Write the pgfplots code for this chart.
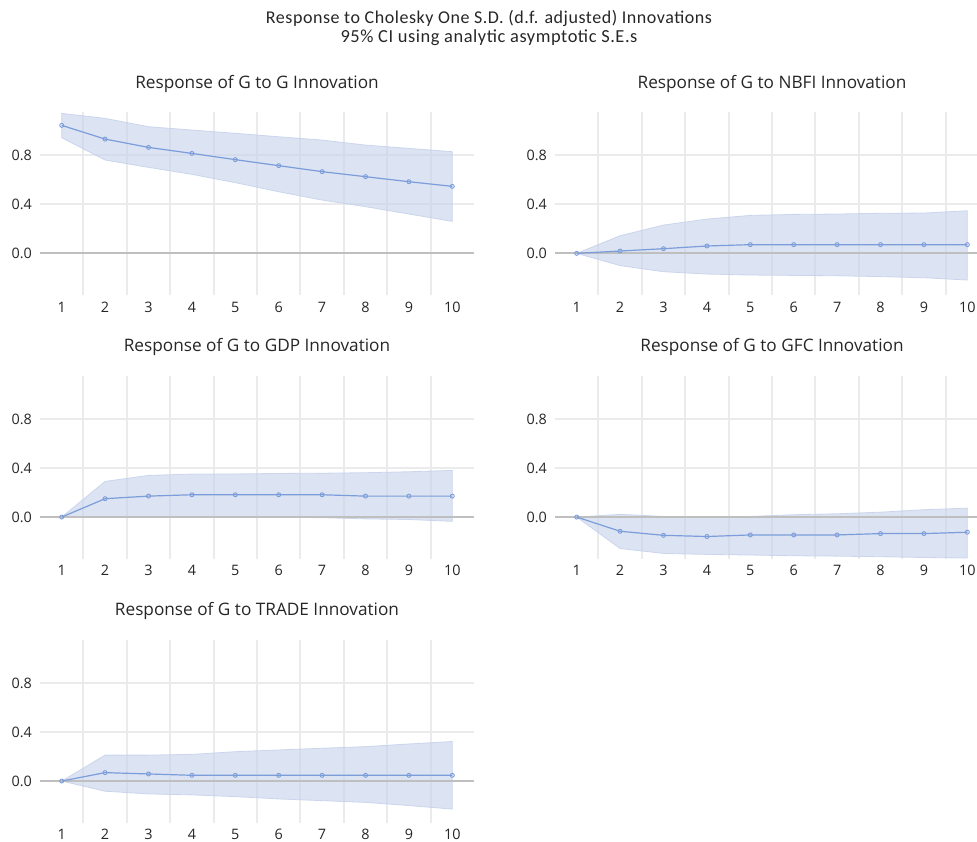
\documentclass[border=0pt]{standalone}
\usepackage{fontspec}
\setmainfont{Open Sans}
\newfontfamily\titlefont[LetterSpace=3]{Carlito}
\usepackage{pgfplots}
\pgfplotsset{compat=1.18}
\definecolor{lineblue}{HTML}{7B9DDA}
\definecolor{bandfill}{HTML}{C9D5EC}
\definecolor{banddraw}{HTML}{C3D0EA}
\definecolor{gridgray}{HTML}{EBEBED}
\definecolor{zerogray}{HTML}{BFBFBF}
\definecolor{txt}{HTML}{262626}
\pgfplotsset{
  irf/.style={
    scale only axis, width=217pt, height=91.25pt,
    xmin=0.5, xmax=10.5, ymin=-0.34, ymax=1.15,
    axis line style={draw=none},
    xtick={1,2,3,4,5,6,7,8,9,10}, ytick={0,0.4,0.8},
    xticklabels={1,2,3,4,5,6,7,8,9,10},
    yticklabels={0.0,0.4,0.8},
    minor xtick={1.5,2.5,3.5,4.5,5.5,6.5,7.5,8.5,9.5},
    minor x grid style={gridgray, line width=1pt},
    xminorgrids=true,
    ymajorgrids=true,
    major grid style={gridgray, line width=1pt},
    major tick length=0pt, minor tick length=0pt,
    tick style={draw=none},
    /pgf/number format/assume math mode=true,
    tick label style={font=\fontsize{7.2}{8}\selectfont, text=txt},
    xticklabel style={anchor=base, yshift=-8.6pt},
    yticklabel style={xshift=-0.5pt},
    every axis title shift=0pt,
    title style={at={(rel axis cs:0.5,1)}, anchor=center, yshift=14.5pt, font=\fontsize{8.6}{10}\selectfont, text=txt},
    clip=false,
  },
  band/.style={fill=bandfill, fill opacity=0.65, draw=banddraw, draw opacity=0.8, line width=0.4pt},
  resp/.style={lineblue, line width=0.6pt, mark=o, mark size=1pt, mark options={fill=white!85!lineblue, line width=0.45pt}},
}
\begin{document}
\begin{tikzpicture}
\node[font=\titlefont\fontsize{9}{10}\selectfont, text=txt] at (244.5pt,411.5pt) {Response to Cholesky One S.D. (d.f. adjusted) Innovations};
\node[font=\titlefont\fontsize{9.2}{10}\selectfont, text=txt] at (244.5pt,401.5pt) {95\% CI using analytic asymptotic S.E.s};

% Panel 1: G to G
\begin{axis}[irf, at={(20pt,273pt)}, anchor=south west, title={Response of G to G Innovation}]
\addplot[band] coordinates {(1,1.143)(2,1.102)(3,1.034)(4,1.007)(5,0.980)(6,0.952)(7,0.925)(8,0.884)(9,0.857)(10,0.830)
 (10,0.261)(9,0.321)(8,0.381)(7,0.435)(6,0.503)(5,0.577)(4,0.645)(3,0.702)(2,0.762)(1,0.944)} -- cycle;
\draw[zerogray, line width=0.9pt] (axis cs:0.5,0) -- (axis cs:10.5,0);
\addplot[resp] coordinates {(1,1.045)(2,0.933)(3,0.865)(4,0.816)(5,0.765)(6,0.716)(7,0.667)(8,0.626)(9,0.585)(10,0.547)};
\end{axis}

% Panel 2: G to NBFI
\begin{axis}[irf, at={(277.5pt,273pt)}, anchor=south west, title={Response of G to NBFI Innovation}]
\addplot[band] coordinates {(1,0)(2,0.144)(3,0.231)(4,0.280)(5,0.310)(6,0.318)(7,0.321)(8,0.327)(9,0.329)(10,0.348)
 (10,-0.218)(9,-0.199)(8,-0.190)(7,-0.183)(6,-0.180)(5,-0.177)(4,-0.169)(3,-0.150)(2,-0.100)(1,0)} -- cycle;
\draw[zerogray, line width=0.9pt] (axis cs:0.5,0) -- (axis cs:10.5,0);
\addplot[resp] coordinates {(1,0)(2,0.019)(3,0.038)(4,0.060)(5,0.071)(6,0.071)(7,0.071)(8,0.071)(9,0.071)(10,0.071)};
\end{axis}

% Panel 3: G to GDP
\begin{axis}[irf, at={(20pt,141.15pt)}, anchor=south west, title={Response of G to GDP Innovation}]
\addplot[band] coordinates {(1,0)(2,0.291)(3,0.340)(4,0.351)(5,0.352)(6,0.356)(7,0.358)(8,0.362)(9,0.370)(10,0.381)
 (10,-0.035)(9,-0.020)(8,-0.015)(7,-0.005)(6,-0.002)(5,0)(4,0.003)(3,0.005)(2,0.005)(1,0)} -- cycle;
\draw[zerogray, line width=0.9pt] (axis cs:0.5,0) -- (axis cs:10.5,0);
\addplot[resp] coordinates {(1,0)(2,0.150)(3,0.171)(4,0.182)(5,0.182)(6,0.182)(7,0.182)(8,0.171)(9,0.171)(10,0.171)};
\end{axis}

% Panel 4: G to GFC
\begin{axis}[irf, at={(277.5pt,141.15pt)}, anchor=south west, title={Response of G to GFC Innovation}]
\addplot[band] coordinates {(1,0)(2,0.022)(3,0.005)(4,0)(5,0.005)(6,0.019)(7,0.027)(8,0.040)(9,0.060)(10,0.073)
 (10,-0.335)(9,-0.330)(8,-0.324)(7,-0.319)(6,-0.316)(5,-0.310)(4,-0.305)(3,-0.297)(2,-0.257)(1,0)} -- cycle;
\draw[zerogray, line width=0.9pt] (axis cs:0.5,0) -- (axis cs:10.5,0);
\addplot[resp] coordinates {(1,0)(2,-0.116)(3,-0.149)(4,-0.159)(5,-0.146)(6,-0.146)(7,-0.146)(8,-0.135)(9,-0.135)(10,-0.124)};
\end{axis}

% Panel 5: G to TRADE
\begin{axis}[irf, at={(20pt,9.15pt)}, anchor=south west, title={Response of G to TRADE Innovation}]
\addplot[band] coordinates {(1,0)(2,0.212)(3,0.212)(4,0.218)(5,0.240)(6,0.254)(7,0.268)(8,0.281)(9,0.303)(10,0.323)
 (10,-0.229)(9,-0.200)(8,-0.174)(7,-0.160)(6,-0.146)(5,-0.127)(4,-0.113)(3,-0.105)(2,-0.083)(1,0)} -- cycle;
\draw[zerogray, line width=0.9pt] (axis cs:0.5,0) -- (axis cs:10.5,0);
\addplot[resp] coordinates {(1,0)(2,0.069)(3,0.058)(4,0.047)(5,0.047)(6,0.047)(7,0.047)(8,0.047)(9,0.047)(10,0.047)};
\end{axis}

\pgfresetboundingbox
\path[use as bounding box] (0,0) rectangle (488.5pt,420.5pt);
\end{tikzpicture}
\end{document}
